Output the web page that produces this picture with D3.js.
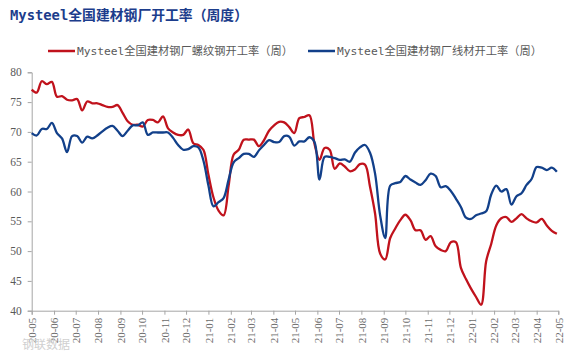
<!DOCTYPE html>
<html><head><meta charset="utf-8">
<script src="https://cdn.jsdelivr.net/npm/d3@7/dist/d3.min.js"></script>
<style>
html,body{margin:0;padding:0;background:#fff;}
svg{display:block;}
</style></head>
<body>
<svg id="chart" width="567" height="355"></svg>
<script>
const title = "Mysteel全国建材钢厂开工率（周度）";
const seriesNames = ["Mysteel全国建材钢厂螺纹钢开工率（周）", "Mysteel全国建材钢厂线材开工率（周）"];
const firstWeek = "2020-05-01";   // weekly (Friday) observations
const rebar = [
 77.1,76.6,78.5,78.0,78.4,75.9,76.0,75.4,75.3,75.5,
 73.6,75.1,74.8,74.8,74.5,74.2,74.2,74.5,73.2,71.8,
 71.2,71.2,70.9,72.0,72.0,71.6,72.6,70.6,69.9,69.5,
 69.5,70.4,68.1,67.8,67.0,62.8,59.0,56.8,56.0,61.0,
 66.2,67.0,68.7,68.7,68.7,67.6,68.6,70.2,71.1,71.7,
 71.6,70.8,69.8,72.3,72.5,72.8,68.0,65.3,67.3,67.0,
 63.8,64.7,64.2,63.4,63.7,64.6,64.5,60.8,56.3,49.6,
 48.6,52.2,53.8,55.2,56.1,55.2,53.5,53.5,51.9,52.5,
 50.8,50.2,50.0,51.5,51.5,47.2,45.3,43.7,42.3,41.0,
 48.3,51.2,54.3,55.5,55.7,54.9,55.5,56.2,55.5,55.0,
 54.8,55.4,54.3,53.4,52.9];
const wire = [
 69.8,69.4,70.5,70.5,71.5,69.8,68.9,66.6,69.3,69.3,
 68.2,69.2,68.9,69.4,70.1,70.7,71.0,70.2,69.3,70.2,
 71.1,71.1,71.6,69.5,69.9,69.9,69.9,69.9,69.0,67.8,
 67.0,67.1,67.6,67.4,65.2,61.0,57.5,58.2,58.9,62.0,
 64.9,65.6,66.3,66.3,65.8,66.9,67.8,68.6,68.3,68.3,
 69.3,69.2,67.7,68.4,68.4,69.1,68.3,62.0,65.8,65.8,
 65.6,65.3,65.4,65.0,66.5,67.4,67.8,66.5,63.0,56.0,
 52.2,61.0,61.4,61.6,62.6,62.0,61.5,61.1,61.9,63.0,
 62.6,60.7,60.9,60.1,58.8,57.4,55.6,55.4,56.0,56.3,
 56.7,59.5,61.0,60.0,60.4,57.8,59.2,59.7,61.1,62.1,
 64.1,64.0,63.6,64.0,63.3];
const yTicks = [40,45,50,55,60,65,70,75,80];
const xStart = "2020-05-01", xEnd = "2022-05-01";

const parse = d3.timeParse("%Y-%m-%d");
const t0 = parse(firstWeek);
const dates = rebar.map((_, i) => d3.timeWeek.offset(t0, i));

const svg = d3.select("#chart");
const L = 31.7, R = 558.3, T = 72.3, B = 310.7;
const x = d3.scaleTime().domain([parse(xStart), parse(xEnd)]).range([L, R]);
const y = d3.scaleLinear().domain([40, 80]).range([B, T]);

const serif = "'Liberation Serif','Times New Roman',serif";
const mono = "'DejaVu Sans Mono','Noto Sans CJK SC',monospace";
const axisCol = "#a6a6a6", textCol = "#595959";

// title
svg.append("text").attr("x", 10).attr("y", 20)
  .attr("font-family", mono).attr("font-weight", "bold").attr("font-size", 14)
  .attr("fill", "#1c3d8c").attr("textLength", 238).attr("lengthAdjust", "spacingAndGlyphs")
  .text(title);

// legend
const colors = ["#c0121c", "#12408a"];
const legendPos = [{x1: 48, x2: 75, tx: 77, w: 216}, {x1: 308, x2: 335, tx: 337, w: 205}];
legendPos.forEach((p, k) => {
  svg.append("line").attr("x1", p.x1).attr("x2", p.x2).attr("y1", 51).attr("y2", 51)
    .attr("stroke", colors[k]).attr("stroke-width", 2.5);
  svg.append("text").attr("x", p.tx).attr("y", 55)
    .attr("font-family", mono).attr("font-size", 11.3).attr("fill", textCol)
    .attr("textLength", p.w).attr("lengthAdjust", "spacingAndGlyphs")
    .text(seriesNames[k]);
});

// y axis
const gy = svg.append("g").attr("transform", `translate(${L},0)`)
  .call(d3.axisLeft(y).tickValues(yTicks).tickSize(4).tickPadding(6).tickFormat(d3.format("d")));
gy.select(".domain").attr("stroke", axisCol);
gy.selectAll(".tick line").attr("stroke", axisCol);
gy.selectAll("text").attr("font-family", serif).attr("font-size", 11.5).attr("fill", textCol);

// x axis
const gx = svg.append("g").attr("transform", `translate(0,${B})`)
  .call(d3.axisBottom(x).ticks(d3.timeMonth.every(1)).tickSize(4).tickFormat(d3.timeFormat("%y-%m")));
gx.select(".domain").attr("stroke", axisCol);
gx.selectAll(".tick line").attr("stroke", axisCol);
gx.selectAll("text")
  .attr("font-family", serif).attr("font-size", 11).attr("fill", "#6b6b6b")
  .attr("y", 0).attr("x", -7).attr("dy", "0.35em")
  .attr("transform", "rotate(-90)").style("text-anchor", "end");

// lines
const line = d3.line().x((d, i) => x(dates[i])).y(d => y(d)).curve(d3.curveCatmullRom.alpha(0.5));
[rebar, wire].forEach((s, k) => {
  svg.append("path").datum(s).attr("d", line)
    .attr("fill", "none").attr("stroke", colors[k]).attr("stroke-width", 2.3)
    .attr("stroke-linejoin", "round");
});

// watermark
svg.append("text").attr("x", 22).attr("y", 349)
  .attr("font-family", "'Noto Sans CJK SC',sans-serif").attr("font-size", 12)
  .attr("fill", "#d0d0d0").text("钢联数据");
</script>
</body></html>
